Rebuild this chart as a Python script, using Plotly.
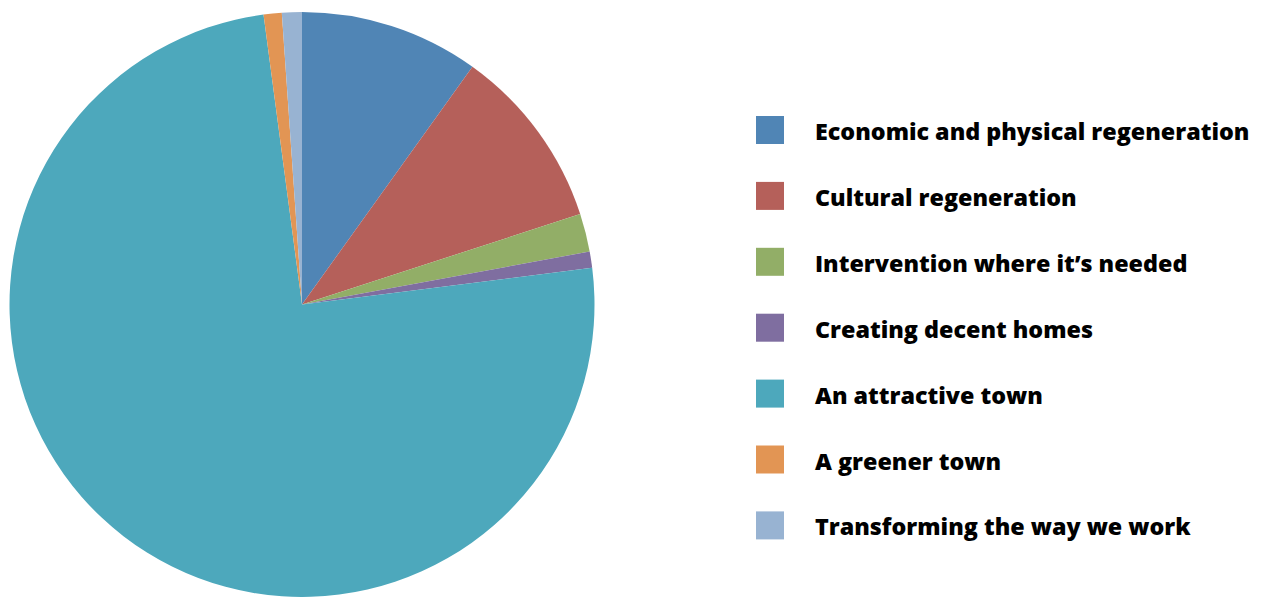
import plotly.graph_objects as go

labels = [
    "Economic and physical regeneration",
    "Cultural regeneration",
    "Intervention where it\u2019s needed",
    "Creating decent homes",
    "An attractive town",
    "A greener town",
    "Transforming the way we work",
]
values = [9.9, 10.1, 2.1, 0.9, 74.9, 1.0, 1.1]
colors = ["#5085B5", "#B5605A", "#92AE67", "#7F6EA0", "#4DA8BC", "#E29554", "#98B3D2"]

W, H = 1276, 597
fig = go.Figure()
fig.add_trace(go.Pie(
    labels=labels, values=values, sort=False, direction="clockwise", rotation=0,
    marker=dict(colors=colors, line=dict(width=0)),
    textinfo="none", hoverinfo="label+percent", showlegend=False,
    domain=dict(x=[(302 - 292.5) / W, (302 + 292.5) / W], y=[0, 585 / H]),
))

# custom legend
top, gap, sq = 130, 65.9, 28
for i, (lab, col) in enumerate(zip(labels, colors)):
    yc = top + i * gap
    fig.add_shape(type="rect", xref="paper", yref="paper",
                  x0=756 / W, x1=(756 + sq) / W,
                  y0=1 - (yc - sq / 2) / H, y1=1 - (yc + sq / 2) / H,
                  fillcolor=col, line=dict(width=0))
    fig.add_annotation(text=lab, xref="paper", yref="paper",
                       x=813 / W, y=1 - (yc + 1) / H, xanchor="left", yanchor="middle",
                       showarrow=False,
                       font=dict(family="Open Sans", size=23.3, color="#000000", weight=800))

fig.update_layout(width=W, height=H, margin=dict(l=0, r=0, t=0, b=0),
                  paper_bgcolor="white", plot_bgcolor="white")
fig.write_html("out.html")
